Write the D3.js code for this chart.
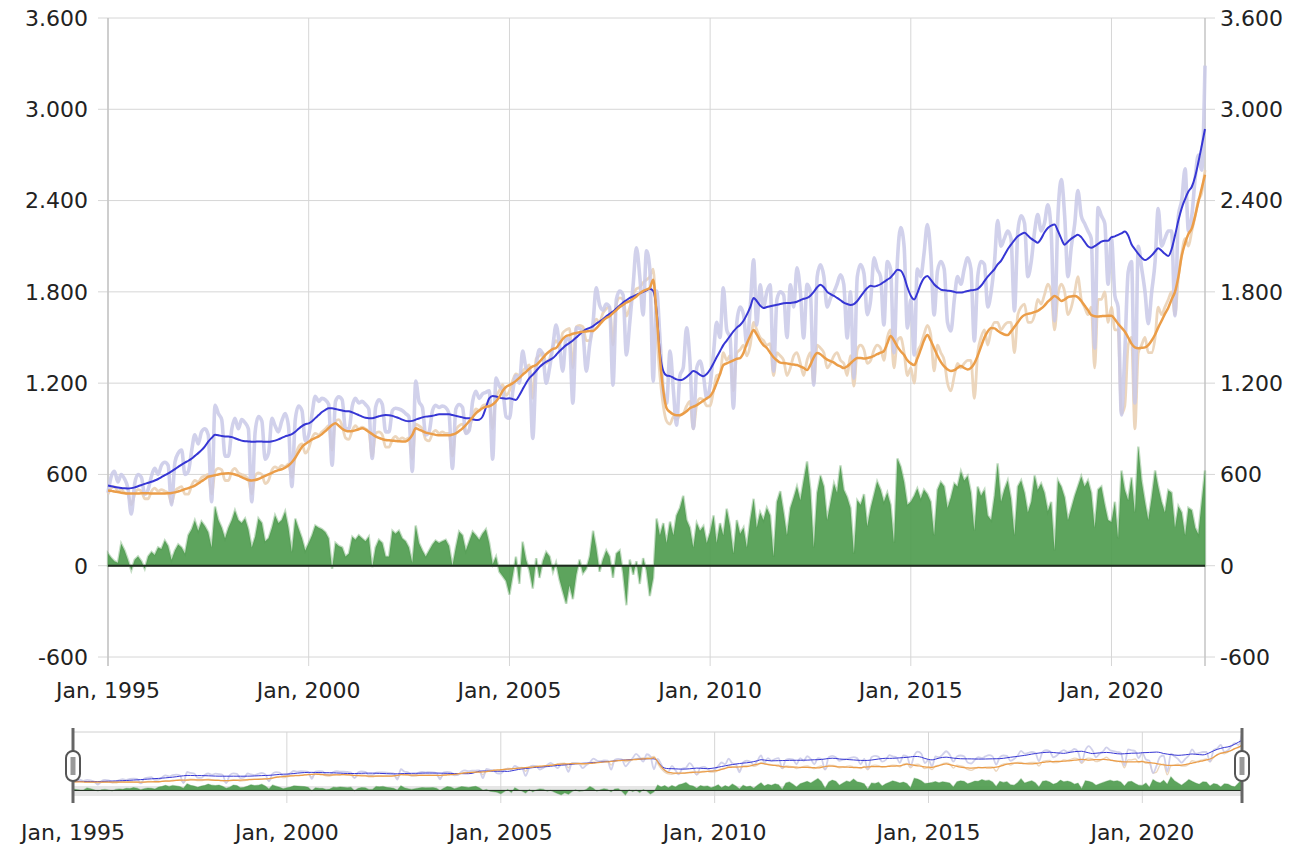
<!DOCTYPE html>
<html>
<head>
<meta charset="utf-8">
<style>
  body { margin: 0; background: #fff; }
  text { font-family: "DejaVu Sans", Verdana, sans-serif; fill: #222; }
</style>
</head>
<body>
<script src="https://cdn.jsdelivr.net/npm/d3@7"></script>
<script>

// monthly values, Jan 1995 .. May 2022 (one row per year)
var blueRaw = [
  480,590,620,550,600,570,510,340,540,600,580,470,
  500,590,640,600,660,680,660,400,680,740,760,600,
  620,760,860,800,880,900,860,420,1055,1000,960,720,
  720,900,969,900,960,940,900,420,880,980,950,700,
  740,969,920,880,950,1000,920,520,960,1050,1020,820,
  860,1000,1114,1080,1100,1090,1060,660,1080,1110,1090,900,
  900,1050,1100,1070,1080,1060,1030,705,1040,1090,1060,880,
  880,1020,1035,1030,1020,1000,980,620,1213,1080,1040,860,
  880,1020,1055,1040,1050,1040,1000,640,1030,1060,1040,870,
  890,1080,1147,1100,1130,1140,1150,700,1233,1180,1150,980,
  969,1150,1250,1200,1411,1300,1280,837,1300,1420,1385,1200,
  1300,1450,1582,1450,1279,1500,1480,1068,1563,1560,1520,1279,
  1450,1600,1826,1714,1680,1720,1700,1187,1750,1806,1780,1385,
  1600,1850,2090,1900,1648,2070,1950,1213,1806,1500,1147,1068,
  1411,1150,923,1250,1300,1563,1350,903,1300,1345,1250,1100,
  1187,1400,1600,1500,1826,1550,1500,1035,1600,1700,1650,1450,
  1700,2011,1582,1846,1700,1800,1846,1279,1750,1800,1780,1500,
  1846,1700,1958,1800,1497,1850,1800,1187,1900,1978,1900,1700,
  1760,1800,1850,1912,1850,1497,1800,1233,1900,1980,1920,1650,
  1750,2024,1950,1900,1582,2000,1950,1400,2000,2222,2100,1563,
  1750,1385,1950,1900,2050,2242,2050,1648,1938,2000,1950,1600,
  1543,1750,1900,1850,1950,2024,1950,1477,1900,2000,1980,1700,
  1800,2000,2268,2100,2150,2200,2150,1675,2200,2300,2250,1900,
  2000,2200,2308,2200,2250,2373,2200,1609,2300,2538,2300,1900,
  2100,2250,2466,2300,2250,2200,2150,1430,2354,2300,2250,1850,
  2150,1774,1700,991,1400,1930,2000,1070,2100,1957,1800,1591,
  1800,2000,2348,2100,2150,2200,2200,1643,2300,2400,2609,2200,
  2300,2550,2700,2600,3287
];

var orangeRaw = [
  470,510,520,490,500,480,470,400,470,500,490,440,
  440,490,510,490,500,490,480,410,490,510,520,470,
  470,530,560,550,580,590,600,470,620,640,630,560,
  560,620,640,610,600,590,570,470,590,610,600,540,
  560,630,650,640,660,650,670,580,720,780,800,740,
  770,840,870,860,880,900,920,760,950,960,920,840,
  830,890,920,900,910,900,880,720,870,880,860,780,
  780,830,850,830,840,830,840,700,930,920,900,830,
  820,870,890,870,880,870,870,720,890,920,930,870,
  900,980,1030,1020,1050,1060,1070,900,1110,1150,1190,1120,
  1150,1220,1260,1250,1280,1300,1320,1100,1360,1380,1400,1330,
  1360,1440,1480,1450,1530,1550,1560,1300,1570,1580,1570,1480,
  1480,1570,1620,1600,1660,1690,1700,1450,1720,1760,1750,1640,
  1700,1780,1820,1830,1860,1880,1900,1950,1550,1250,1050,950,
  930,980,960,990,1000,1050,1080,900,1060,1100,1090,1050,
  1050,1150,1250,1260,1400,1350,1380,1150,1400,1420,1450,1380,
  1450,1600,1550,1500,1480,1450,1460,1250,1400,1380,1350,1250,
  1300,1380,1400,1330,1250,1350,1400,1200,1450,1430,1400,1300,
  1330,1380,1400,1350,1330,1250,1380,1180,1420,1450,1420,1330,
  1350,1420,1450,1430,1350,1500,1550,1300,1480,1500,1400,1250,
  1300,1200,1400,1450,1520,1580,1520,1280,1450,1400,1350,1200,
  1150,1250,1330,1300,1330,1350,1350,1100,1400,1500,1550,1450,
  1550,1600,1600,1550,1580,1600,1600,1400,1650,1700,1720,1600,
  1600,1650,1750,1720,1780,1850,1800,1550,1780,1850,1800,1650,
  1700,1800,1900,1750,1700,1650,1700,1300,1750,1750,1800,1600,
  1700,1550,1550,1000,1050,1450,1500,900,1400,1450,1500,1400,
  1400,1500,1700,1650,1700,1750,1800,1650,1900,2050,2150,2100,
  2200,2300,2400,2450,2600
];

var blueTrend = [
  527,522,518,514,511,509,508,510,515,522,530,538,
  545,552,560,570,582,595,607,620,635,650,665,678,
  690,705,722,740,760,785,815,840,860,858,852,850,
  850,845,838,830,822,818,817,815,815,817,816,815,
  815,818,822,830,840,850,857,865,880,900,918,930,
  936,950,970,990,1010,1025,1035,1035,1030,1025,1020,1016,
  1015,1008,1000,990,980,972,969,970,975,982,988,990,
  989,985,978,970,960,952,949,952,960,968,975,980,
  982,985,990,995,995,995,995,990,985,980,975,970,
  969,962,958,960,980,1040,1100,1115,1112,1105,1100,1098,
  1100,1095,1090,1120,1160,1200,1233,1255,1280,1305,1325,1340,
  1352,1365,1385,1410,1430,1450,1464,1480,1500,1520,1540,1555,
  1563,1575,1590,1605,1620,1640,1655,1670,1690,1710,1730,1745,
  1760,1770,1780,1790,1800,1810,1820,1806,1675,1400,1279,1250,
  1246,1235,1225,1220,1225,1240,1260,1279,1270,1255,1246,1260,
  1290,1330,1370,1410,1450,1480,1510,1540,1565,1582,1610,1650,
  1700,1760,1740,1710,1694,1700,1705,1710,1715,1720,1725,1727,
  1727,1730,1735,1745,1755,1760,1775,1800,1830,1846,1830,1800,
  1785,1773,1760,1745,1730,1720,1714,1720,1740,1770,1800,1825,
  1840,1835,1840,1850,1865,1880,1895,1920,1945,1940,1900,1830,
  1775,1750,1790,1850,1890,1905,1880,1850,1830,1815,1810,1808,
  1806,1800,1795,1795,1800,1805,1810,1813,1820,1840,1870,1900,
  1925,1950,1980,2004,2040,2080,2110,2140,2165,2180,2189,2170,
  2150,2135,2123,2150,2190,2220,2235,2242,2200,2150,2110,2130,
  2150,2165,2176,2160,2130,2100,2090,2100,2115,2130,2136,2136,
  2160,2165,2175,2185,2196,2170,2113,2080,2050,2025,2009,2020,
  2040,2065,2087,2070,2050,2035,2080,2170,2270,2350,2410,2460,
  2491,2560,2650,2760,2870
];

var orangeTrend = [
  495,492,488,484,480,477,475,474,474,475,476,476,
  476,475,474,474,475,475,476,478,482,488,495,503,
  510,518,527,540,555,570,585,590,595,600,604,606,
  607,605,600,592,582,572,563,560,563,570,580,590,
  600,610,620,628,634,645,659,680,710,745,780,800,
  815,830,840,850,865,885,905,925,936,920,900,888,
  883,885,890,897,903,895,880,865,850,840,832,826,
  824,822,820,818,817,817,830,860,903,895,885,875,
  870,865,860,858,857,857,857,862,870,885,903,925,
  950,975,1002,1020,1035,1045,1048,1060,1080,1110,1150,1175,
  1187,1200,1215,1235,1255,1275,1295,1310,1319,1340,1365,1390,
  1410,1425,1431,1460,1490,1510,1516,1525,1530,1535,1538,1540,
  1542,1543,1560,1585,1610,1628,1640,1660,1680,1700,1715,1730,
  1740,1755,1770,1790,1805,1815,1826,1879,1650,1365,1150,1035,
  1010,995,989,989,1000,1015,1035,1045,1055,1070,1085,1100,
  1115,1150,1200,1260,1319,1330,1340,1350,1360,1365,1400,1460,
  1510,1549,1520,1480,1450,1431,1400,1370,1350,1335,1332,1330,
  1325,1322,1319,1310,1300,1286,1320,1370,1398,1390,1370,1355,
  1345,1335,1320,1310,1299,1310,1330,1350,1365,1365,1362,1365,
  1370,1380,1390,1400,1411,1460,1510,1480,1440,1410,1385,1350,
  1330,1319,1360,1420,1480,1516,1480,1430,1380,1340,1310,1290,
  1279,1285,1300,1312,1300,1290,1300,1330,1380,1440,1500,1540,
  1563,1560,1545,1530,1520,1516,1540,1570,1600,1630,1648,1655,
  1660,1668,1675,1690,1710,1735,1755,1773,1760,1740,1750,1765,
  1770,1773,1765,1740,1710,1680,1648,1640,1638,1640,1642,1643,
  1643,1620,1590,1565,1539,1500,1460,1435,1430,1432,1435,1450,
  1480,1520,1565,1610,1655,1696,1750,1800,1900,2035,2120,2180,
  2217,2300,2390,2480,2570
];

var spread = [
  80,50,30,20,145,100,40,-30,40,60,30,-20,
  60,90,70,120,110,165,130,40,100,140,120,80,
  200,240,297,230,290,260,220,120,389,300,250,180,
  250,300,363,300,280,310,240,120,190,310,280,160,
  180,250,330,280,300,356,250,90,310,244,180,100,
  150,200,264,250,240,220,180,-20,150,130,120,60,
  80,190,170,200,180,160,190,-10,120,170,150,60,
  60,230,210,230,180,160,120,20,264,150,100,60,
  100,140,165,150,160,170,130,0,120,224,200,100,
  160,224,200,170,210,240,150,10,60,-40,-70,-100,
  -190,-60,60,-120,158,40,-30,-150,50,-80,30,90,
  60,-40,20,-90,-170,-250,-130,-220,-60,40,-50,-20,
  60,230,120,-40,40,100,60,-80,80,100,-50,-260,
  40,-60,30,-120,50,-30,-200,-80,310,200,280,150,
  290,200,330,380,460,300,250,120,280,230,260,150,
  220,330,150,280,200,375,260,80,300,210,250,120,
  300,440,250,350,300,380,330,60,420,490,350,200,
  380,450,520,430,560,685,500,120,480,593,520,300,
  420,540,480,659,500,450,380,80,430,400,470,260,
  380,470,553,500,420,480,400,150,705,650,550,400,
  420,460,507,440,500,470,420,200,500,550,520,380,
  450,540,520,620,560,590,480,230,520,460,500,330,
  300,460,672,420,500,560,440,200,520,560,480,350,
  420,593,500,540,480,360,420,100,560,520,450,300,
  380,460,520,587,520,560,480,250,500,520,400,300,
  287,420,180,626,500,430,580,350,783,560,420,300,
  450,626,520,420,350,496,480,250,391,350,200,380,
  365,250,209,420,626
];

var yTicks = [-600, 0, 600, 1200, 1800, 2400, 3000, 3600];

var months = d3.timeMonth.range(new Date(1995, 0, 1), new Date(2022, 5, 1));

var es = d3.formatLocale({decimal: ",", thousands: ".", grouping: [3], currency: ["", " €"], minus: "-"});
var fmtY = es.format(",d");
var fmtX = d3.timeFormat("Jan, %Y");

var W = 1309, H = 848;
var svg = d3.select("body").append("svg")
  .attr("width", W)
  .attr("height", H);

// ---------- main chart ----------
var x = d3.scaleTime().domain([months[0], months[months.length - 1]]).range([108, 1205]);
var y = d3.scaleLinear().domain([-600, 3600]).range([657, 18]);

var grid = svg.append("g");
grid.selectAll(".hg").data(yTicks).enter().append("line")
  .attr("x1", 98).attr("x2", 1215)
  .attr("y1", function(d) { return y(d); })
  .attr("y2", function(d) { return y(d); })
  .attr("stroke", "#d6d6d6").attr("stroke-width", 1);

var xTicks = x.ticks(d3.timeYear.every(5));
grid.selectAll(".vg").data(xTicks).enter().append("line")
  .attr("x1", function(d) { return x(d); })
  .attr("x2", function(d) { return x(d); })
  .attr("y1", 18).attr("y2", 666)
  .attr("stroke", "#d6d6d6").attr("stroke-width", 1);

grid.selectAll(".ax").data([108, 1205]).enter().append("line")
  .attr("x1", function(d) { return d; }).attr("x2", function(d) { return d; })
  .attr("y1", 18).attr("y2", 666)
  .attr("stroke", "#c4c4c4").attr("stroke-width", 1.5);

svg.append("g").selectAll("text").data(yTicks).enter().append("text")
  .attr("x", 88).attr("y", function(d) { return y(d); })
  .attr("dy", "0.36em").attr("text-anchor", "end")
  .style("font-size", "22px")
  .text(function(d) { return fmtY(d); });

svg.append("g").selectAll("text").data(yTicks).enter().append("text")
  .attr("x", 1220).attr("y", function(d) { return y(d); })
  .attr("dy", "0.36em").attr("text-anchor", "start")
  .style("font-size", "22px")
  .text(function(d) { return fmtY(d); });

svg.append("g").selectAll("text").data(xTicks).enter().append("text")
  .attr("x", function(d) { return x(d); }).attr("y", 698)
  .attr("text-anchor", "middle")
  .style("font-size", "22px")
  .text(function(d) { return fmtX(d); });

function drawSeries(g, sx, sy, w) {
  var area = d3.area()
    .x(function(d, i) { return sx(months[i]); })
    .y0(sy(0))
    .y1(function(d) { return sy(d); });
  var line = function(curve) {
    return d3.line()
      .x(function(d, i) { return sx(months[i]); })
      .y(function(d) { return sy(d); })
      .curve(curve);
  };
  g.append("path").datum(spread)
    .attr("d", area)
    .attr("fill", "#4f9c4f").attr("fill-opacity", 0.92)
    .attr("stroke", "#4f9c4f").attr("stroke-opacity", 0.35).attr("stroke-width", w * 1.2);
  g.append("line")
    .attr("x1", sx.range()[0]).attr("x2", sx.range()[1])
    .attr("y1", sy(0)).attr("y2", sy(0))
    .attr("stroke", "#1f2a1f").attr("stroke-width", w);
  g.append("path").datum(orangeRaw)
    .attr("d", line(d3.curveMonotoneX))
    .attr("fill", "none").attr("stroke", "#ead2b6").attr("stroke-width", w * 1.4)
    .attr("stroke-opacity", 0.9);
  g.append("path").datum(blueRaw)
    .attr("d", line(d3.curveMonotoneX))
    .attr("fill", "none").attr("stroke", "#c9c9e8").attr("stroke-width", w * 1.8)
    .attr("stroke-opacity", 0.85);
  g.append("path").datum(blueTrend)
    .attr("d", line(d3.curveMonotoneX))
    .attr("fill", "none").attr("stroke", "#3636d4").attr("stroke-width", w);
  g.append("path").datum(orangeTrend)
    .attr("d", line(d3.curveMonotoneX))
    .attr("fill", "none").attr("stroke", "#eb9d48").attr("stroke-width", w * 1.25);
}

drawSeries(svg.append("g"), x, y, 2);

// ---------- navigator ----------
var xn = d3.scaleTime().domain(x.domain()).range([73, 1242]);
var allVals = blueRaw.concat(orangeRaw, spread);
var yn = d3.scaleLinear().domain(d3.extent(allVals)).range([795, 733]);

var nav = svg.append("g");
nav.append("rect").attr("x", 73).attr("y", 786).attr("width", 1169).attr("height", 10)
  .attr("fill", "#e6e6e6");
nav.append("line").attr("x1", 73).attr("x2", 1242).attr("y1", 732).attr("y2", 732)
  .attr("stroke", "#d0d0d0");
nav.selectAll(".nvg").data(xTicks).enter().append("line")
  .attr("x1", function(d) { return xn(d); })
  .attr("x2", function(d) { return xn(d); })
  .attr("y1", 732).attr("y2", 803)
  .attr("stroke", "#d6d6d6");

drawSeries(nav.append("g"), xn, yn, 1);

nav.selectAll(".nl").data(xTicks).enter().append("text")
  .attr("x", function(d) { return xn(d); }).attr("y", 840)
  .attr("text-anchor", "middle")
  .style("font-size", "22px")
  .text(function(d) { return fmtX(d); });

var handles = nav.selectAll(".hd").data([73, 1242]).enter().append("g");
handles.append("line")
  .attr("x1", function(d) { return d; }).attr("x2", function(d) { return d; })
  .attr("y1", 728).attr("y2", 803)
  .attr("stroke", "#666").attr("stroke-width", 3);
handles.append("rect")
  .attr("x", function(d) { return d - 7; }).attr("y", 751)
  .attr("width", 14).attr("height", 30).attr("rx", 7)
  .attr("fill", "#fff").attr("stroke", "#555").attr("stroke-width", 2);
handles.append("rect")
  .attr("x", function(d) { return d - 2.5; }).attr("y", 757)
  .attr("width", 5).attr("height", 18)
  .attr("fill", "#999");

</script>
</body>
</html>
